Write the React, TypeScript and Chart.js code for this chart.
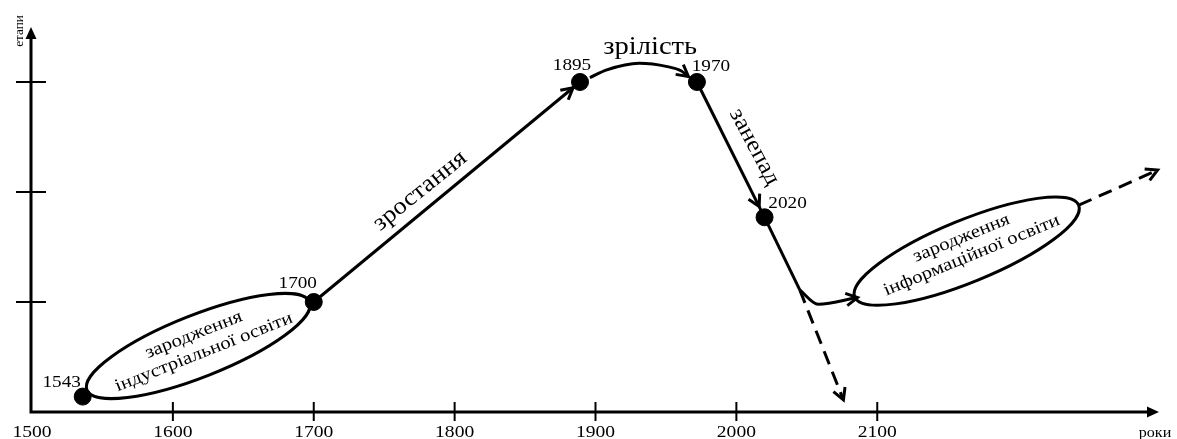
import React, { useEffect, useRef } from "react";
import { Chart, registerables } from "chart.js";

Chart.register(...registerables);

// ---------- data ----------
const xTickValues = [1500, 1600, 1700, 1800, 1900, 2000, 2100];
const xTickLabels = ["1500", "1600", "1700", "1800", "1900", "2000", "2100"];
const yTickValues = [1, 2, 3];
const xAxisTitle = "роки";
const yAxisTitle = "етапи";

// key points: x = position on the year axis, y = stage level
const keyPointX = [1536, 1700, 1889, 1972, 2020];
const keyPointY = [0.14, 1.0, 3.0, 3.0, 1.77];
const keyPointLabels = ["1543", "1700", "1895", "1970", "2020"];

// growth (1700 -> 1895)
const growthX = [1700, 1889];
const growthY = [1.0, 3.0];
// maturity arc (1895 -> 1970)
const maturityX = [1896, 1908, 1931, 1951, 1961, 1966];
const maturityY = [3.04, 3.11, 3.17, 3.14, 3.1, 3.05];
// decline (1970 -> 2020)
const declineX = [1972, 2020];
const declineY = [3.0, 1.77];
// decline continues to the branching point
const declineTailX = [2020, 2045];
const declineTailY = [1.77, 1.11];
// dashed fall
const fallX = [2045, 2076];
const fallY = [1.11, 0.11];
// hook towards the new stage
const hookX = [2045, 2058, 2086];
const hookY = [1.11, 0.98, 1.04];
// dashed future
const futureX = [2243, 2299];
const futureY = [1.88, 2.2];

// ellipses (tip-to-tip, in axis units)
const ellipseStartX = [1539, 2084];
const ellipseStartY = [0.2, 1.045];
const ellipseEndX = [1697, 2243];
const ellipseEndY = [1.0, 1.88];
const ellipseLine1 = ["зародження", "зародження"];
const ellipseLine2 = ["індустріальної освіти", "інформаційної освіти"];

// stage names
const stageNames = ["зростання", "зрілість", "занепад"];
const stageX = [1775.5, 1938.8, 2012.7];
const stageY = [2.01, 3.32, 2.41];

// ---------- styles ----------
const FONT = "'Liberation Serif', 'Times New Roman', serif";
const stageAngles = [-39, 0, 62];
const stageSizes = [24, 26, 23];
const keyLabelOffsets = [
  [-21, -14],
  [-16, -18],
  [-8, -16],
  [14, -15],
  [23, -14],
];
const ellipseSemiMinor = 31;
const ellipseTextPerp = [
  [-12, 8],
  [-14, 6],
];

const toPts = (xs: number[], ys: number[]) => xs.map((x, i) => ({ x, y: ys[i] }));

function drawText(
  ctx: CanvasRenderingContext2D,
  text: string,
  x: number,
  y: number,
  size: number,
  angleDeg = 0,
  stretch = 1.2
) {
  ctx.save();
  ctx.translate(x, y);
  ctx.rotate((angleDeg * Math.PI) / 180);
  ctx.scale(stretch, 1);
  ctx.font = `${size}px ${FONT}`;
  ctx.textAlign = "center";
  ctx.textBaseline = "middle";
  ctx.fillStyle = "#000";
  ctx.fillText(text, 0, 0);
  ctx.restore();
}

function chevron(ctx: CanvasRenderingContext2D, tx: number, ty: number, fx: number, fy: number, back = 0, len = 13) {
  const a = Math.atan2(ty - fy, tx - fx);
  tx -= back * Math.cos(a);
  ty -= back * Math.sin(a);
  const s = 0.5;
  ctx.save();
  ctx.strokeStyle = "#000";
  ctx.lineWidth = 3;
  ctx.setLineDash([]);
  ctx.lineJoin = "miter";
  ctx.lineCap = "butt";
  ctx.beginPath();
  ctx.moveTo(tx - len * Math.cos(a - s), ty - len * Math.sin(a - s));
  ctx.lineTo(tx, ty);
  ctx.lineTo(tx - len * Math.cos(a + s), ty - len * Math.sin(a + s));
  ctx.stroke();
  ctx.restore();
}

function triangle(ctx: CanvasRenderingContext2D, tx: number, ty: number, a: number, len = 12, half = 5.5) {
  ctx.save();
  ctx.fillStyle = "#000";
  ctx.beginPath();
  ctx.moveTo(tx, ty);
  const bx = tx - len * Math.cos(a);
  const by = ty - len * Math.sin(a);
  ctx.lineTo(bx + half * Math.sin(a), by - half * Math.cos(a));
  ctx.lineTo(bx - half * Math.sin(a), by + half * Math.cos(a));
  ctx.closePath();
  ctx.fill();
  ctx.restore();
}

const schemePlugin = {
  id: "scheme",
  beforeDatasetsDraw(chart: any) {
    const ctx: CanvasRenderingContext2D = chart.ctx;
    const xs = chart.scales.x;
    const ys = chart.scales.y;
    const x0 = xs.getPixelForValue(xs.min) - 1;
    const y0 = ys.getPixelForValue(0);
    const xEnd = xs.getPixelForValue(xs.max);
    const yEnd = ys.getPixelForValue(ys.max);
    ctx.save();
    ctx.strokeStyle = "#000";
    ctx.lineWidth = 3;
    ctx.beginPath();
    ctx.moveTo(x0, y0);
    ctx.lineTo(x0, yEnd + 8);
    ctx.moveTo(x0 - 1.5, y0);
    ctx.lineTo(xEnd - 8, y0);
    ctx.stroke();
    triangle(ctx, x0, yEnd, -Math.PI / 2);
    triangle(ctx, xEnd, y0, 0);
    // y ticks
    ctx.lineWidth = 2;
    yTickValues.forEach((v) => {
      const py = ys.getPixelForValue(v);
      ctx.beginPath();
      ctx.moveTo(x0 - 15, py);
      ctx.lineTo(x0 + 15, py);
      ctx.stroke();
    });
    // x ticks + labels
    xTickValues.forEach((v, i) => {
      const px = xs.getPixelForValue(v);
      if (v !== xs.min) {
        ctx.beginPath();
        ctx.moveTo(px, y0 - 10);
        ctx.lineTo(px, y0 + 9);
        ctx.stroke();
      }
      drawText(ctx, xTickLabels[i], px, y0 + 21, 17, 0, 1.15);
    });
    ctx.restore();
    drawText(ctx, xAxisTitle, xEnd - 4, y0 + 21, 14, 0, 1.15);
    drawText(ctx, yAxisTitle, x0 - 11, yEnd + 4, 12, -90, 1.1);

    // ellipses
    for (let i = 0; i < ellipseStartX.length; i++) {
      const ax = xs.getPixelForValue(ellipseStartX[i]);
      const ay = ys.getPixelForValue(ellipseStartY[i]);
      const bx = xs.getPixelForValue(ellipseEndX[i]);
      const by = ys.getPixelForValue(ellipseEndY[i]);
      const cx = (ax + bx) / 2;
      const cy = (ay + by) / 2;
      const ang = Math.atan2(by - ay, bx - ax);
      const semiMajor = Math.hypot(bx - ax, by - ay) / 2;
      ctx.save();
      ctx.strokeStyle = "#000";
      ctx.lineWidth = 3;
      ctx.beginPath();
      ctx.ellipse(cx, cy, semiMajor, ellipseSemiMinor, ang, 0, Math.PI * 2);
      ctx.stroke();
      ctx.restore();
      const deg = (ang * 180) / Math.PI;
      const nx = -Math.sin(ang);
      const ny = Math.cos(ang);
      const [p1, p2] = ellipseTextPerp[i];
      drawText(ctx, ellipseLine1[i], cx + nx * p1, cy + ny * p1, 18, deg, 1.15);
      drawText(ctx, ellipseLine2[i], cx + nx * p2 + 3 * Math.cos(ang), cy + ny * p2 + 3 * Math.sin(ang), 18, deg, 1.15);
    }
  },
  afterDatasetsDraw(chart: any) {
    const ctx: CanvasRenderingContext2D = chart.ctx;
    const xs = chart.scales.x;
    const ys = chart.scales.y;
    // arrowheads on line datasets flagged with arrow
    chart.data.datasets.forEach((ds: any, di: number) => {
      if (!ds.arrow) return;
      const meta = chart.getDatasetMeta(di);
      const pts = meta.data;
      const last = pts[pts.length - 1];
      const prev = pts[pts.length - 2];
      let fx = prev.x;
      let fy = prev.y;
      if (typeof last.cp1x === "number" && Math.hypot(last.cp1x - last.x, last.cp1y - last.y) > 1) {
        fx = last.cp1x;
        fy = last.cp1y;
      }
      chevron(ctx, last.x, last.y, fx, fy, ds.arrowBack || 0, 13);
    });
    // key point labels
    keyPointLabels.forEach((t, i) => {
      const px = xs.getPixelForValue(keyPointX[i]);
      const py = ys.getPixelForValue(keyPointY[i]);
      drawText(ctx, t, px + keyLabelOffsets[i][0], py + keyLabelOffsets[i][1], 16, 0, 1.2);
    });
    // stage names
    stageNames.forEach((t, i) => {
      drawText(ctx, t, xs.getPixelForValue(stageX[i]), ys.getPixelForValue(stageY[i]), stageSizes[i], stageAngles[i], 1.1);
    });
  },
};

const lineDs = (xs: number[], ys: number[], extra: any = {}) => ({
  type: "line",
  data: toPts(xs, ys),
  borderColor: "#000",
  borderWidth: 3,
  pointRadius: 0,
  fill: false,
  tension: 0,
  ...extra,
});

export default function App() {
  const ref = useRef<HTMLCanvasElement | null>(null);
  useEffect(() => {
    if (!ref.current) return;
    const chart = new Chart(ref.current, {
      type: "line",
      data: {
        datasets: [
          lineDs(growthX, growthY, { arrow: true, arrowBack: 9 }),
          lineDs(maturityX, maturityY, { arrow: true, cubicInterpolationMode: "monotone" }),
          lineDs(declineX, declineY, { arrow: true, arrowBack: 12 }),
          lineDs(declineTailX, declineTailY),
          lineDs(fallX, fallY, { arrow: true, borderDash: [14, 8] }),
          lineDs(hookX, hookY, { arrow: true, cubicInterpolationMode: "monotone" }),
          lineDs(futureX, futureY, { arrow: true, borderDash: [14, 8] }),
          {
            type: "scatter",
            data: toPts(keyPointX, keyPointY),
            pointRadius: 8.5,
            pointBackgroundColor: "#000",
            pointBorderColor: "#000",
            showLine: false,
          },
        ] as any,
      },
      options: {
        responsive: false,
        animation: false,
        layout: { padding: { left: 32, right: 18, top: 27, bottom: 27 } },
        plugins: { legend: { display: false }, tooltip: { enabled: false } },
        events: [],
        scales: {
          x: { type: "linear", min: 1500, max: 2300, display: false },
          y: { type: "linear", min: 0, max: 3.5, display: false },
        },
      } as any,
      plugins: [schemePlugin],
    });
    return () => chart.destroy();
  }, []);
  return (
    <div style={{ position: "absolute", left: 0, top: 0, width: 1177, height: 439, background: "#fff" }}>
      <canvas ref={ref} width={1177} height={439} style={{ display: "block" }} />
    </div>
  );
}
